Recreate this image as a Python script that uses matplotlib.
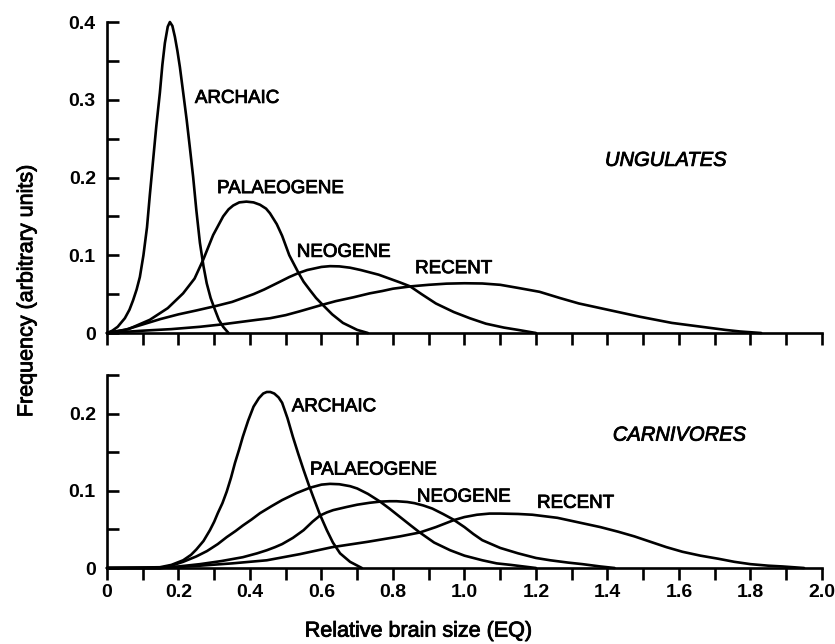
import matplotlib
matplotlib.use("Agg")
import matplotlib.pyplot as plt
import matplotlib.patheffects as pe
from matplotlib.ticker import FixedLocator, FixedFormatter

plt.rcParams['font.family'] = ['Liberation Sans', 'DejaVu Sans']

# ---- Ungulates: EQ distributions (x = EQ, y = frequency) ----
ung_archaic_x = [0.00, 0.015, 0.03, 0.05, 0.063, 0.073, 0.083, 0.092, 0.102, 0.112, 0.12,
                 0.129, 0.138, 0.148, 0.155, 0.162, 0.170, 0.176, 0.183, 0.19, 0.197, 0.204,
                 0.213, 0.223, 0.232, 0.241, 0.25, 0.26, 0.27, 0.279, 0.29, 0.302, 0.313,
                 0.325, 0.34]
ung_archaic_y = [0.0, 0.003, 0.008, 0.019, 0.030, 0.042, 0.056, 0.072, 0.100, 0.136, 0.178,
                 0.222, 0.266, 0.309, 0.345, 0.373, 0.394, 0.400, 0.395, 0.381, 0.363, 0.342,
                 0.310, 0.274, 0.238, 0.201, 0.158, 0.116, 0.086, 0.064, 0.045, 0.030, 0.017,
                 0.008, 0.0]

ung_palaeo_x = [0.0, 0.06, 0.12, 0.17, 0.213, 0.245, 0.269, 0.297, 0.325, 0.34, 0.353, 0.37,
                0.39, 0.41, 0.428, 0.445, 0.456, 0.475, 0.49, 0.51, 0.535, 0.55, 0.568, 0.585,
                0.604, 0.63, 0.66, 0.70, 0.73]
ung_palaeo_y = [0.0, 0.005, 0.017, 0.032, 0.051, 0.070, 0.094, 0.126, 0.150, 0.159, 0.164, 0.168,
                0.169, 0.168, 0.165, 0.160, 0.154, 0.140, 0.125, 0.100, 0.078, 0.066, 0.055, 0.045,
                0.036, 0.024, 0.013, 0.004, 0.0]

ung_neo_x = [0.0, 0.05, 0.1, 0.15, 0.2, 0.25, 0.307, 0.35, 0.38, 0.41, 0.44, 0.484, 0.51,
             0.535, 0.56, 0.58, 0.60, 0.624, 0.65, 0.68, 0.71, 0.735, 0.76, 0.79, 0.82, 0.848,
             0.88, 0.92, 0.97, 1.015, 1.06, 1.11, 1.15, 1.20]
ung_neo_y = [0.0, 0.004, 0.011, 0.018, 0.024, 0.029, 0.035, 0.040, 0.045, 0.050, 0.056, 0.066, 0.072,
             0.077, 0.081, 0.083, 0.085, 0.086, 0.0857, 0.084, 0.081, 0.078, 0.075, 0.070, 0.065, 0.060,
             0.050, 0.038, 0.027, 0.019, 0.012, 0.007, 0.004, 0.0]

ung_recent_x = [0.0, 0.1, 0.18, 0.26, 0.32, 0.37, 0.42, 0.456, 0.50, 0.54, 0.57, 0.60, 0.64,
                0.69, 0.735, 0.77, 0.80, 0.85, 0.90, 0.95, 1.0, 1.05, 1.10, 1.15, 1.21, 1.267,
                1.32, 1.36, 1.40, 1.45, 1.49, 1.535, 1.58, 1.63, 1.68, 1.73, 1.77, 1.83]
ung_recent_y = [0.0, 0.003, 0.005, 0.008, 0.011, 0.014, 0.017, 0.019, 0.023, 0.028, 0.032, 0.036, 0.041,
                0.046, 0.051, 0.054, 0.057, 0.060, 0.062, 0.0635, 0.064, 0.0637, 0.062, 0.058, 0.053, 0.045,
                0.038, 0.034, 0.030, 0.025, 0.021, 0.017, 0.013, 0.010, 0.007, 0.004, 0.002, 0.0]

# ---- Carnivores ----
car_archaic_x = [0.0, 0.148, 0.18, 0.213, 0.235, 0.25, 0.27, 0.288, 0.30, 0.31, 0.323, 0.335,
                 0.347, 0.358, 0.37, 0.38, 0.395, 0.41, 0.425, 0.437, 0.447, 0.457, 0.468, 0.48,
                 0.49, 0.505, 0.52, 0.535, 0.55, 0.565, 0.577, 0.595, 0.615, 0.632, 0.652, 0.68,
                 0.713]
car_archaic_y = [0.0, 0.001, 0.004, 0.010, 0.017, 0.024, 0.035, 0.049, 0.060, 0.071, 0.084, 0.099,
                 0.117, 0.136, 0.154, 0.170, 0.191, 0.209, 0.220, 0.226, 0.228, 0.228, 0.226, 0.221,
                 0.214, 0.194, 0.170, 0.148, 0.127, 0.107, 0.092, 0.070, 0.049, 0.033, 0.019, 0.008,
                 0.0]

car_palaeo_x = [0.0, 0.148, 0.18, 0.213, 0.25, 0.28, 0.31, 0.335, 0.36, 0.38, 0.405, 0.428, 0.46,
                0.49, 0.53, 0.568, 0.60, 0.624, 0.65, 0.68, 0.70, 0.73, 0.764, 0.79, 0.82, 0.85,
                0.875, 0.915, 0.96, 1.0, 1.05, 1.09, 1.13, 1.2]
car_palaeo_y = [0.0, 0.0, 0.003, 0.008, 0.015, 0.022, 0.031, 0.040, 0.048, 0.055, 0.063, 0.071, 0.080,
                0.088, 0.097, 0.104, 0.108, 0.109, 0.1085, 0.106, 0.103, 0.096, 0.086, 0.077, 0.066, 0.055,
                0.046, 0.033, 0.023, 0.016, 0.010, 0.006, 0.004, 0.0]

car_neo_x = [0.0, 0.148, 0.2, 0.26, 0.32, 0.38, 0.42, 0.447, 0.47, 0.49, 0.52, 0.55, 0.575, 0.596,
             0.615, 0.633, 0.67, 0.70, 0.735, 0.764, 0.79, 0.81, 0.84, 0.86, 0.885, 0.91, 0.94,
             0.968, 1.0, 1.025, 1.05, 1.1, 1.15, 1.2, 1.24, 1.29, 1.33, 1.38, 1.42]
car_neo_y = [0.0, 0.0, 0.002, 0.005, 0.009, 0.014, 0.019, 0.023, 0.027, 0.031, 0.039, 0.049, 0.060, 0.068,
             0.072, 0.075, 0.079, 0.082, 0.0845, 0.086, 0.0865, 0.0865, 0.0855, 0.084, 0.081, 0.077, 0.070,
             0.063, 0.053, 0.044, 0.036, 0.026, 0.019, 0.013, 0.010, 0.007, 0.005, 0.002, 0.0]

car_recent_x = [0.0, 0.15, 0.26, 0.35, 0.447, 0.54, 0.63, 0.73, 0.82, 0.875, 0.92, 0.97, 1.0,
                1.035, 1.07, 1.10, 1.15, 1.19, 1.26, 1.33, 1.38, 1.43, 1.475, 1.52, 1.565, 1.61,
                1.66, 1.71, 1.755, 1.80, 1.85, 1.89, 1.95]
car_recent_y = [0.0, 0.0, 0.003, 0.006, 0.010, 0.018, 0.027, 0.034, 0.041, 0.046, 0.053, 0.062, 0.066,
                0.069, 0.0705, 0.0705, 0.070, 0.069, 0.065, 0.058, 0.053, 0.047, 0.041, 0.034, 0.027, 0.021,
                0.016, 0.012, 0.008, 0.005, 0.003, 0.002, 0.0]

period_names = ["ARCHAIC", "PALAEOGENE", "NEOGENE", "RECENT"]
ung_label_pos = [(0.246, 0.296), (0.308, 0.180), (0.531, 0.098), (0.862, 0.077)]
car_label_pos = [(0.517, 0.203), (0.568, 0.121), (0.867, 0.086), (1.203, 0.078)]

x_ticks = [0.0, 0.2, 0.4, 0.6, 0.8, 1.0, 1.2, 1.4, 1.6, 1.8, 2.0]
x_ticklabels = ["0", "0.2", "0.4", "0.6", "0.8", "1.0", "1.2", "1.4", "1.6", "1.8", "2.0"]
x_minor = [0.1, 0.3, 0.5, 0.7, 0.9, 1.1, 1.3, 1.5, 1.7, 1.9]
ung_yticks = [0.0, 0.1, 0.2, 0.3, 0.4]
ung_yticklabels = ["0", "0.1", "0.2", "0.3", "0.4"]
car_yticks = [0.0, 0.1, 0.2]
car_yticklabels = ["0", "0.1", "0.2"]

LW = 1.9
heavy = [pe.withStroke(linewidth=0.6, foreground="black")]

fig = plt.figure(figsize=(8.35, 6.44), dpi=100)
ax_top = fig.add_axes([0.1281, 0.4829, 0.8563, 0.4829])
ax_bot = fig.add_axes([0.1281, 0.1180, 0.8563, 0.2997])


def style_axis(ax, ymax, yticks, yticklabels, yminor, show_xlabels):
    ax.set_xlim(0, 2.0)
    ax.set_ylim(0, ymax)
    for side in ("top", "right"):
        ax.spines[side].set_visible(False)
    for side in ("left", "bottom"):
        ax.spines[side].set_linewidth(LW)
    ax.xaxis.set_major_locator(FixedLocator(x_ticks))
    ax.xaxis.set_minor_locator(FixedLocator(x_minor))
    ax.yaxis.set_major_locator(FixedLocator(yticks))
    ax.yaxis.set_minor_locator(FixedLocator(yminor))
    ax.yaxis.set_major_formatter(FixedFormatter(yticklabels))
    if show_xlabels:
        ax.xaxis.set_major_formatter(FixedFormatter(x_ticklabels))
    else:
        ax.set_xticklabels([])
    ax.tick_params(axis="x", which="both", direction="out", length=8.5, width=LW,
                   pad=3, labelsize=14)
    ax.tick_params(axis="y", which="both", direction="in", length=8.5, width=LW,
                   pad=8, labelsize=14)
    for lab in ax.get_xticklabels() + ax.get_yticklabels():
        lab.set_fontweight("bold")


style_axis(ax_top, 0.4, ung_yticks, ung_yticklabels, [0.05, 0.15, 0.25, 0.35], False)
style_axis(ax_bot, 0.25, car_yticks, car_yticklabels, [0.05, 0.15, 0.25], True)

ung_series = [(ung_archaic_x, ung_archaic_y), (ung_palaeo_x, ung_palaeo_y),
              (ung_neo_x, ung_neo_y), (ung_recent_x, ung_recent_y)]
car_series = [(car_archaic_x, car_archaic_y), (car_palaeo_x, car_palaeo_y),
              (car_neo_x, car_neo_y), (car_recent_x, car_recent_y)]

for ax, series, label_pos in ((ax_top, ung_series, ung_label_pos),
                              (ax_bot, car_series, car_label_pos)):
    for (xs, ys), name, (lx, ly) in zip(series, period_names, label_pos):
        ax.plot(xs, ys, color="black", lw=LW, solid_joinstyle="round",
                solid_capstyle="round", clip_on=False)
        ax.text(lx, ly, name, fontsize=13.5, ha="left", va="baseline", path_effects=heavy)

ax_top.text(1.393, 0.215, "UNGULATES", fontsize=14.5, style="italic", ha="left",
            va="baseline", path_effects=heavy)
ax_bot.text(1.415, 0.165, "CARNIVORES", fontsize=14.5, style="italic", ha="left",
            va="baseline", path_effects=heavy)

fig.text(0.5006, 0.020, "Relative brain size (EQ)", fontsize=15.5, ha="center",
         va="center", path_effects=heavy)
fig.text(0.032, 0.548, "Frequency (arbitrary units)", fontsize=15.5, rotation=90,
         ha="center", va="center", path_effects=heavy)

fig.savefig("out.png", dpi=100)
